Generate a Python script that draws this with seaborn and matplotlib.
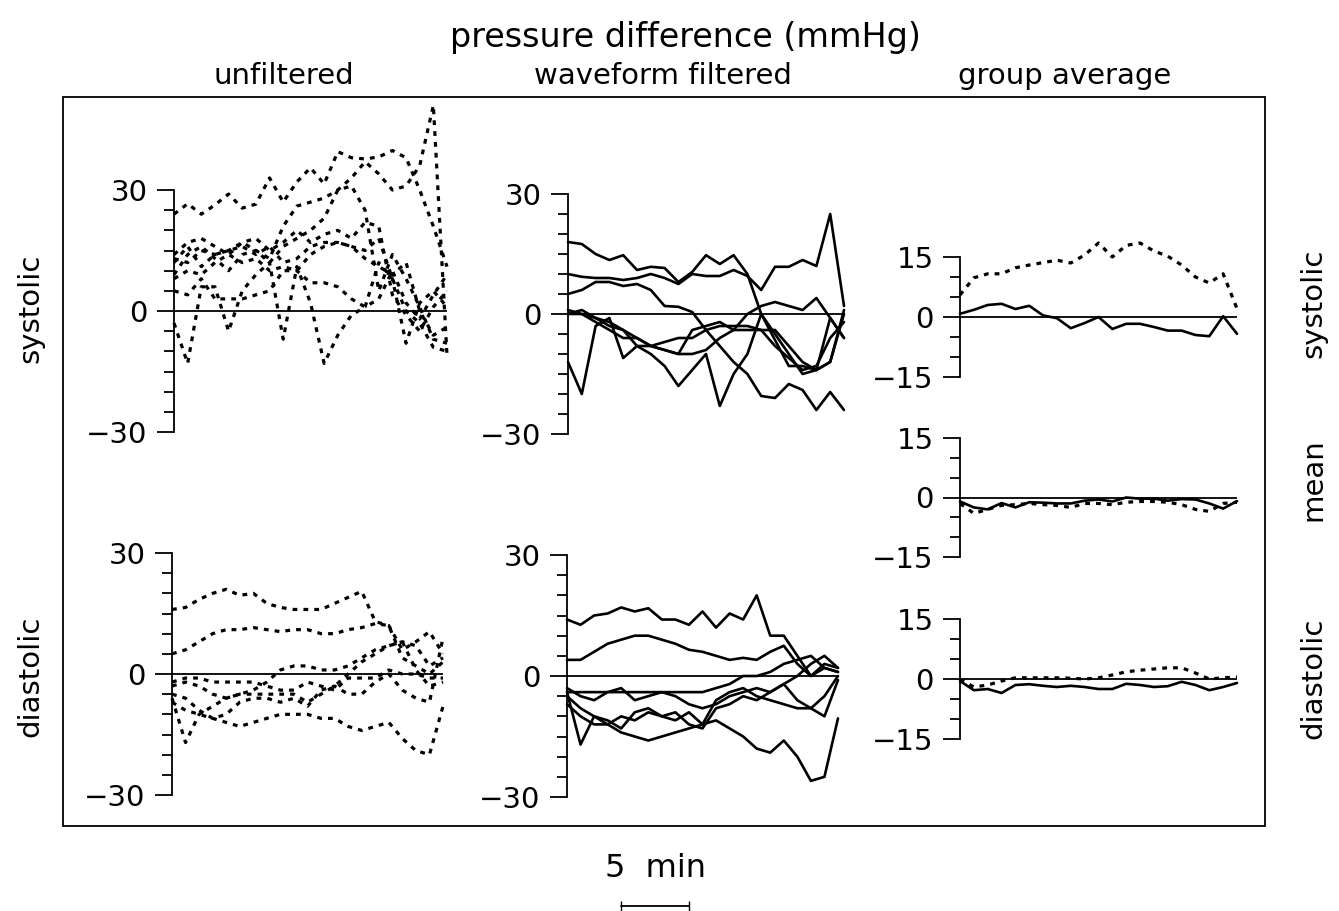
import numpy as np
import matplotlib
matplotlib.use("Agg")
import matplotlib.pyplot as plt
import matplotlib.transforms as mtransforms
import seaborn as sns

sns.set_style("ticks")
plt.rcParams["font.family"] = ["DejaVu Sans"]
for k in ["text.color", "axes.labelcolor", "xtick.color", "ytick.color", "axes.edgecolor"]:
    plt.rcParams[k] = "black"

# time axis, minutes
minutes = list(range(21))

# unfiltered, systolic (dotted)
unf_sys = [
    [24, 26.6, 24, 26.3, 29, 25.5, 26.5, 33, 27, 32, 35.5, 31.5, 39.5, 38, 37.7, 38.2, 39.8, 38, 30, 21, 11],
    [12, 16, 11, 14, 15, 17, 15, 13, 21, 26, 27, 28, 30, 33, 37, 34, 30, 31, 36, 51, -11],
    [9, 14, 16, 13, 10, 14, 15, 12, 16, 18, 20, 23, 30, 31, 25, 5, 14, 8, 1, -7, -8],
    [14, 17, 18, 16, 14, 17, 18, 15, 17, 20, 17, 19, 20, 18, 22, 21, 4, -1, -5, 1, 5],
    [-3, -13, 6, 6, -5, 5, 9, 12, -7, 11, 2, -13, -6, -1, 1, 12, 8, -8, 2, 5, 1],
    [5, 4, 8, 3, 3, 3, 4, 5, 10, 10, 7, 7, 6, 3, 1, 3, 10, 2, -2, 4, 9],
    [8, 10, 9, 12, 14, 12, 13, 10, 11, 10, 14, 16, 17, 16, 15, 18, 8, 0, -3, -9, -10],
    [13, 12, 15, 14, 15, 16, 14, 16, 12, 13, 16, 17, 17, 16, 13, 11, 9, 12, 0, -6, -4],
]

# waveform filtered, systolic (solid)
filt_sys = [
    [18, 17.5, 15, 13.5, 14.7, 11, 11.8, 11.5, 8, 10.5, 14.7, 12.5, 14.7, 10, 0, -6.5, -13, -13, -14, -1, -6],
    [10, 9.3, 9, 9, 8.5, 9, 10, 9, 7.5, 10, 9.5, 9.5, 11, 9.5, 6, 11.8, 11.8, 13.5, 12, 25, 2],
    [5, 6, 8, 8, 7, 7.5, 6, 2, 1.8, 0.5, -4, -8, -12, -15, -20.5, -21, -17.5, -19, -24, -19.5, -24],
    [-12, -20, -3, -1, -11, -8, -10, -13, -18, -14, -10, -23, -15, -10, 0, -5, -10, -15, -14, -12, 1],
    [0, 0, -2, -4, -6, -6, -8, -7, -6, -6, -4, -3, -3, -3, -4, -4, -8, -12, -14, -12, 0],
    [0, 1, -1, -3, -4, -6, -8, -9, -10, -10, -9, -6, -4, 0, 2, 3, 2, 1, 4, -1, -6],
    [1, 0, -1, -2, -4, -8, -8, -9, -10, -4, -3, -2, -4, -4, -4, -8, -11, -14, -13, -6, -2],
]

# unfiltered, diastolic (dotted)
unf_dia = [
    [16, 16.5, 18.5, 20, 21, 19.5, 20, 17.5, 16.5, 16, 16, 16, 17.5, 19, 20.5, 13, 12, 6, 8, 10.5, 5],
    [5, 6, 8, 10, 11, 11, 11.5, 11, 10.5, 11, 11, 10, 10, 11, 11.5, 12.5, 12, 4, 2, 0, 3],
    [-2, -1, -1, -2, -2, -2, -2, -3, -4, -4, -2, -3, -4, -1, -1, -1, 1, 0, 0, -1, -1],
    [-6, -17, -10, -8, -6, -5, -5, -5, -5, -5, -7, -5, -3, 0, 3, 5, 7, 8, 7, 2, 4],
    [-7, -9, -10, -11, -12, -13, -12, -11, -10, -10, -10, -11, -11, -13, -14, -13, -12, -16, -19, -20, -8],
    [-3, -2, -3, -5, -6, -5, -4, -2, 1, 2, 2, 1, 1, 2, 4, 6, 7, 8, 1, -3, -2],
    [-5, -6, -9, -11, -10, -7, -6, -6, -7, -6, -8, -4, -3, -5, -5, -2, 0, -4, -6, -7, 9],
]

# waveform filtered, diastolic (solid)
filt_dia = [
    [14, 12.7, 15, 15.5, 17, 16, 16.8, 14, 14, 12.7, 16, 12, 15.5, 14, 20, 10, 10, 5, 0, 3, 2],
    [4, 4, 6, 8, 9, 10, 10, 9, 8, 6.5, 6, 5, 4, 4.5, 4, 6, 7.5, 3, 0, 2, 1],
    [-7, -10, -12, -12, -14, -15, -16, -15, -14, -13, -12, -11, -13, -15, -18, -19, -16, -20, -26, -25, -10.5],
    [-4, -17, -10, -11, -13, -9, -8, -10, -9, -12, -13, -8, -7, -5, -6, -4, -2, -6, -8, -10, -1],
    [-4, -4, -4, -4, -4, -4, -4, -4, -4, -4, -4, -3, -2, 0, 0, 1, 3, 4, 5, 2, 1],
    [-3, -5, -6, -4, -3, -6, -5, -4, -5, -7, -8, -7, -5, -4, -3, -4, -2, 0, 3, 5, 2],
    [-5, -8, -10, -12, -10, -11, -9, -10, -11, -9, -12, -6, -4, -3, -5, -6, -7, -8, -8, -5, 0],
]

# group averages: waveform filtered (solid) and unfiltered (dotted)
avg_sys_solid = [0.8, 1.8, 3, 3.3, 2, 2.8, 0.4, -0.3, -2.8, -1.5, 0, -3, -1.7, -1.7, -2.5, -3.4, -3.4, -4.5, -4.8, 0.2, -4.2]
avg_sys_dot = [5.5, 9.8, 10.8, 10.8, 12.3, 13, 13.6, 14.2, 13.5, 15.5, 18.5, 15, 17.9, 18.5, 16.5, 15.2, 13, 10, 8.5, 10.8, 2.1]
avg_mean_solid = [-1, -2.5, -3, -1.4, -2.5, -1.2, -1.3, -1.5, -1.5, -0.8, -0.5, -1, 0, -0.3, -0.3, -0.8, -0.4, -0.5, -1.5, -2.8, -0.9]
avg_mean_dot = [-1.5, -4, -3, -2, -1.8, -1.5, -1.8, -2, -2.5, -1.5, -1.5, -1.8, -1.2, -1, -1, -1.2, -1.8, -3, -3.5, -1.5, -1.2]
avg_dia_solid = [-0.5, -2.8, -2.5, -3.5, -1.5, -1.3, -1.7, -2, -1.7, -2, -2.5, -2.5, -1.2, -1.5, -2, -1.8, -0.7, -1.5, -2.8, -2, -1]
avg_dia_dot = [0, -2, -1.5, -0.5, 0.3, 0.3, 0.3, 0.3, 0.2, 0, 0.3, 1, 1.8, 2.2, 2.5, 2.8, 2.8, 1.5, 0, 0.3, 0.5]

W, H = 1339, 911
fig = plt.figure(figsize=(W / 100, H / 100), dpi=100)
DOT = (0, (1.5, 1.9))


def panel(x0, x1, ytop, ybot, lim):
    ax = fig.add_axes([x0 / W, 1 - ybot / H, (x1 - x0) / W, (ybot - ytop) / H])
    ax.set_xlim(0, 20)
    ax.set_ylim(-lim, lim)
    for s in ["top", "right", "bottom"]:
        ax.spines[s].set_visible(False)
    ax.spines["left"].set_linewidth(1.3)
    ax.patch.set_visible(False)
    ax.set_xticks([])
    ax.set_yticks([-lim, 0, lim])
    ax.set_yticks(np.arange(-lim, lim + 1, 5), minor=True)
    ax.tick_params(axis="y", which="major", length=12, width=1.3, pad=7, labelsize=21)
    ax.tick_params(axis="y", which="minor", length=7, width=1.3)
    ax.axhline(0, color="black", lw=1.3, zorder=1)
    return ax


def draw(ax, series, dotted):
    for vals in series:
        if dotted:
            sns.lineplot(x=minutes, y=vals, ax=ax, color="black", lw=2.3,
                         linestyle=DOT, clip_on=False)
        else:
            sns.lineplot(x=minutes, y=vals, ax=ax, color="black", lw=1.9,
                         clip_on=False)


ax_us = panel(174, 447, 190, 432, 30)
draw(ax_us, unf_sys, True)
ax_fs = panel(568, 844, 194, 434, 30)
draw(ax_fs, filt_sys, False)
ax_ud = panel(172, 443, 553, 795, 30)
draw(ax_ud, unf_dia, True)
ax_fd = panel(567, 838, 555, 797, 30)
draw(ax_fd, filt_dia, False)

ax_as = panel(960, 1237, 257, 377, 15)
draw(ax_as, [avg_sys_solid], False)
draw(ax_as, [avg_sys_dot], True)
ax_am = panel(960, 1237, 438, 557, 15)
draw(ax_am, [avg_mean_solid], False)
draw(ax_am, [avg_mean_dot], True)
ax_ad = panel(960, 1237, 619, 739, 15)
draw(ax_ad, [avg_dia_solid], False)
draw(ax_ad, [avg_dia_dot], True)

# frame around the panels
fig.add_artist(plt.Rectangle((63 / W, 1 - 826 / H), (1265 - 63) / W, (826 - 97) / H,
                             transform=fig.transFigure, fill=False, lw=1.3, ec="black"))

def ftext(x, y, s, **kw):
    fig.text(x / W, 1 - y / H, s, ha="center", va="center", **kw)

ftext(685, 38, "pressure difference (mmHg)", fontsize=24)
ftext(284, 76, "unfiltered", fontsize=21)
ftext(663, 76, "waveform filtered", fontsize=21)
ftext(1065, 76, "group average", fontsize=21)
ftext(30, 308, "systolic", fontsize=21, rotation=90)
ftext(30, 676, "diastolic", fontsize=21, rotation=90)
ftext(1313, 303, "systolic", fontsize=21, rotation=90)
ftext(1313, 480, "mean", fontsize=21, rotation=90)
ftext(1313, 678, "diastolic", fontsize=21, rotation=90)

# 5 min scale bar, in the time units of the filtered diastolic panel
tr = mtransforms.blended_transform_factory(ax_fd.transData, ax_fd.transAxes)
ax_fd.plot([4, 9], [-0.45, -0.45], transform=tr, color="black", lw=1.3,
           marker="|", ms=7, clip_on=False)
ax_fd.text(6.5, -0.295, "5  min", transform=tr, ha="center", va="center", fontsize=23)

fig.savefig("out.png", dpi=100)
